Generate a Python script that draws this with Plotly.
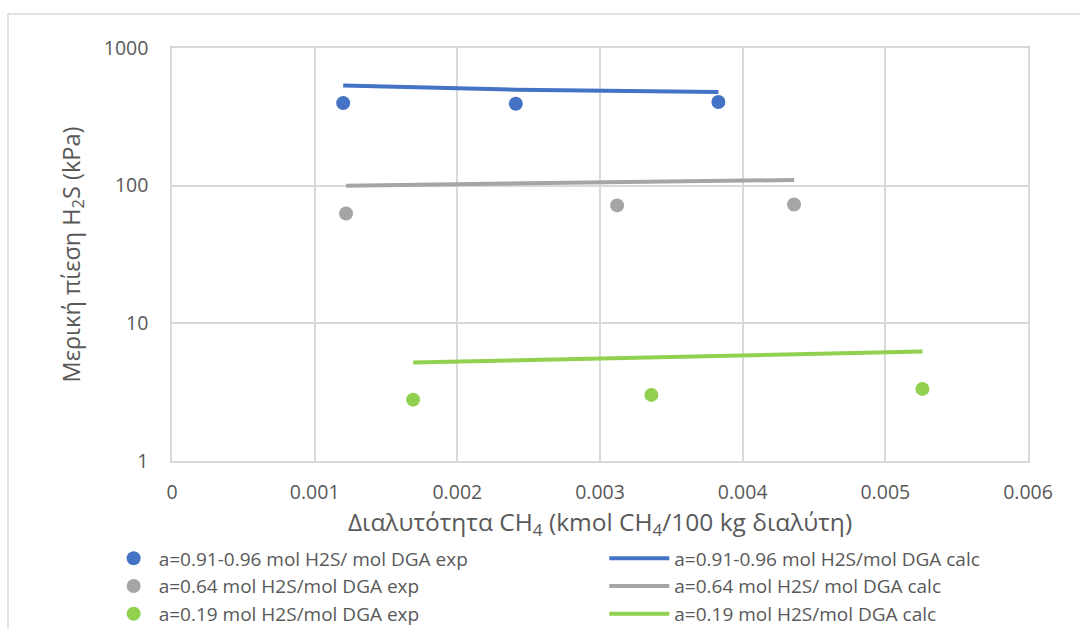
import plotly.graph_objects as go

# CH4 solubility (kmol CH4 / 100 kg solvent) and H2S partial pressure (kPa)
x_exp_high = [0.00120, 0.00241, 0.00383]
p_exp_high = [398, 394, 405]
x_calc_high = [0.00120, 0.00241, 0.00383]
p_calc_high = [535, 498, 479]

x_exp_mid = [0.00122, 0.00312, 0.00436]
p_exp_mid = [62.8, 71.9, 72.9]
x_calc_mid = [0.00122, 0.00312, 0.00436]
p_calc_mid = [100, 105, 110]

x_exp_low = [0.00169, 0.00336, 0.00526]
p_exp_low = [2.79, 3.02, 3.34]
x_calc_low = [0.00169, 0.00336, 0.00526]
p_calc_low = [5.19, 5.69, 6.24]

x_ticks = [0, 0.001, 0.002, 0.003, 0.004, 0.005, 0.006]
x_tick_text = ["0", "0.001", "0.002", "0.003", "0.004", "0.005", "0.006"]
y_ticks = [1, 10, 100, 1000]
y_tick_text = ["1", "10", "100", "1000"]

BLUE = "#4472C4"
GRAY = "#A5A5A5"
GREEN = "#92D050"
TEXT = "#595959"
GRID = "#D9D9D9"
FONT = "Open Sans"

fig = go.Figure()

# measured points (left legend column) and calculated curves (right column)
series = [
    (x_exp_high, p_exp_high, x_calc_high, p_calc_high, BLUE,
     "a=0.91-0.96 mol H2S/ mol DGA exp", "a=0.91-0.96 mol H2S/mol DGA calc"),
    (x_exp_mid, p_exp_mid, x_calc_mid, p_calc_mid, GRAY,
     "a=0.64 mol H2S/mol DGA exp", "a=0.64 mol H2S/ mol DGA calc"),
    (x_exp_low, p_exp_low, x_calc_low, p_calc_low, GREEN,
     "a=0.19 mol H2S/mol DGA exp", "a=0.19 mol H2S/mol DGA calc"),
]

for xe, pe, xc, pc, color, name_exp, name_calc in series:
    fig.add_trace(go.Scatter(
        x=xc, y=pc, mode="lines", name=name_calc,
        line=dict(color=color, width=4), legend="legend2",
    ))
    fig.add_trace(go.Scatter(
        x=xe, y=pe, mode="markers", name=name_exp,
        marker=dict(color=color, size=14), legend="legend",
    ))

LEGEND_FONT = dict(family=FONT, size=19, color=TEXT)

fig.update_layout(
    width=1080, height=628,
    margin=dict(l=172, r=52, t=48, b=167, autoexpand=False),
    paper_bgcolor="white", plot_bgcolor="white",
    font=dict(family=FONT, size=20, color=TEXT),
    showlegend=True,
    legend=dict(
        x=-0.074, y=-0.19, xanchor="left", yanchor="top",
        orientation="v", traceorder="normal", font=LEGEND_FONT,
        itemwidth=40, bgcolor="rgba(0,0,0,0)", tracegroupgap=0,
    ),
    legend2=dict(
        x=0.505, y=-0.19, xanchor="left", yanchor="top",
        orientation="v", traceorder="normal", font=LEGEND_FONT,
        itemwidth=60, bgcolor="rgba(0,0,0,0)", tracegroupgap=0,
    ),
    xaxis=dict(
        range=[0, 0.006], tickvals=x_ticks, ticktext=x_tick_text,
        showgrid=True, gridcolor=GRID, gridwidth=1.5,
        showline=True, linecolor=GRID, linewidth=1.5, mirror=True,
        ticks="", ticklabelstandoff=13, zeroline=False,
        tickfont=dict(family=FONT, size=19.5, color=TEXT),
        title=dict(
            text="Διαλυτότητα CH<sub>4</sub> (kmol CH<sub>4</sub>/100 kg διαλύτη)",
            font=dict(family=FONT, size=24.5, color=TEXT), standoff=10,
        ),
    ),
    yaxis=dict(
        type="log", range=[0, 3], tickvals=y_ticks, ticktext=y_tick_text,
        showgrid=True, gridcolor=GRID, gridwidth=1.5,
        showline=True, linecolor=GRID, linewidth=1.5, mirror=True,
        ticks="", ticklabelstandoff=18, zeroline=False,
        tickfont=dict(family=FONT, size=19.5, color=TEXT),
        title=dict(
            text="Μερική πίεση H<sub>2</sub>S (kPa)",
            font=dict(family=FONT, size=23.5, color=TEXT), standoff=17,
        ),
    ),
)

# outer chart frame (top and left edges run into the page)
fig.add_shape(type="line", xref="paper", yref="paper",
              x0=-0.1916, x1=1.1, y0=1.0823, y1=1.0823,
              line=dict(color=GRID, width=1.5))
fig.add_shape(type="line", xref="paper", yref="paper",
              x0=-0.1916, x1=-0.1916, y0=1.0823, y1=-0.45,
              line=dict(color=GRID, width=1.5))

fig.write_html("out.html")
